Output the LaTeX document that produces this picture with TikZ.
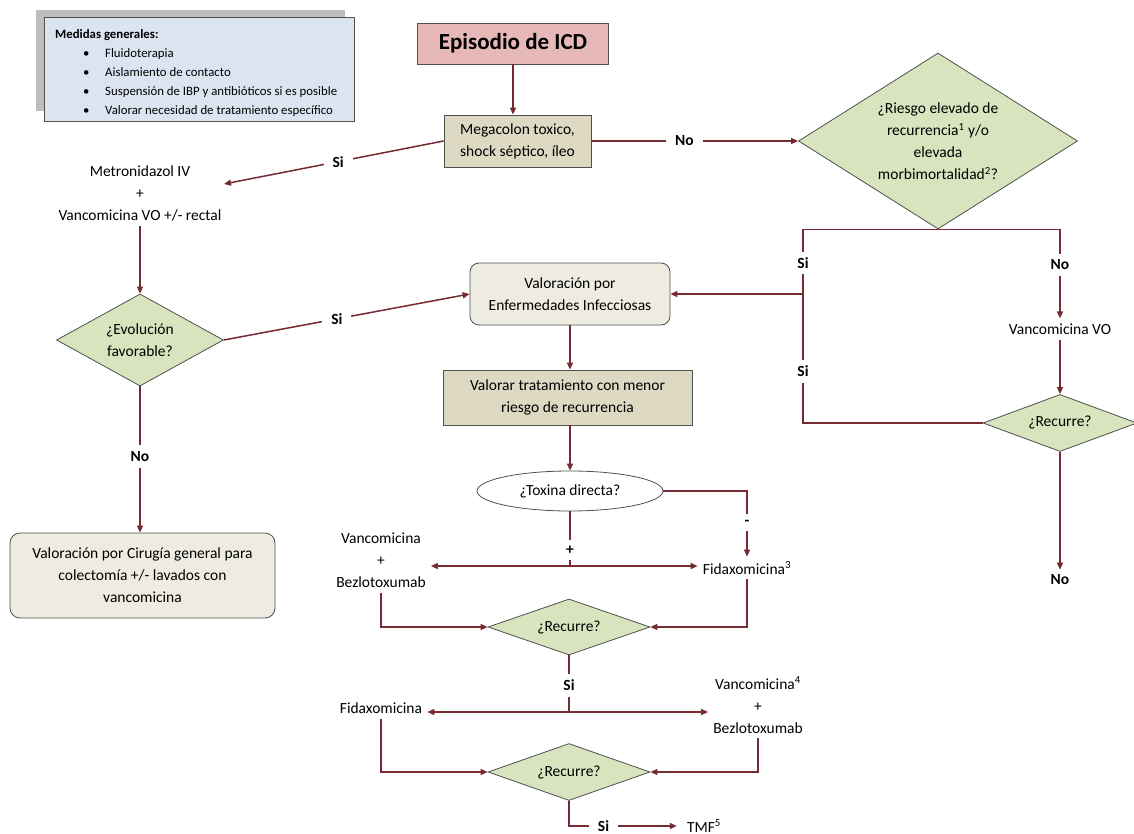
\documentclass[tikz,border=0pt]{standalone}
\usepackage{fontspec}
\setmainfont{Carlito}
\usetikzlibrary{shapes.geometric,arrows.meta}
\definecolor{lnc}{RGB}{118,42,50}
\definecolor{pinkf}{RGB}{230,185,184}
\definecolor{tanf}{RGB}{221,217,195}
\definecolor{greenf}{RGB}{215,228,189}
\definecolor{grayf}{RGB}{238,236,225}
\definecolor{bluef}{RGB}{219,229,241}
\definecolor{shadf}{RGB}{190,190,190}
\definecolor{bord}{RGB}{80,80,80}
\tikzset{
 ln/.style={draw=lnc, line width=1.5pt},
 arr/.style={ln, -{Triangle[length=7pt,width=6pt]}},
 lbl/.style={fill=white, font=\fontsize{15.5}{22}\selectfont\bfseries, inner xsep=9pt, inner ysep=6pt},
 box/.style={draw=bord, line width=0.8pt, align=center, inner sep=2pt},
 dia/.style={diamond, draw=bord, line width=0.8pt, fill=greenf, inner sep=0pt},
 txt/.style={align=center, inner sep=5pt},
}
\begin{document}
\begin{tikzpicture}[x=1pt, y=-1pt, font=\fontsize{15.5}{22}\selectfont]
\useasboundingbox (0,0) rectangle (1134,834);
\fill[white] (0,0) rectangle (1134,834);

% Medidas generales
\node[fill=shadf, minimum width=309pt, minimum height=101pt, anchor=north west, inner sep=0pt] (medsh) at (36,10) {};
\node[draw=bord, line width=0.8pt, fill=bluef, minimum width=310pt, minimum height=104pt, anchor=north west, inner sep=0pt] (med) at (44,17) {};
\node[anchor=north west, align=left, inner sep=0pt, font=\fontsize{12.8}{19}\selectfont] (medt) at (55,29)
 {\textbf{Medidas generales:}\\
  \hspace*{28pt}\makebox[22pt][l]{\textbullet}Fluidoterapia\\
  \hspace*{28pt}\makebox[22pt][l]{\textbullet}Aislamiento de contacto\\
  \hspace*{28pt}\makebox[22pt][l]{\textbullet}Suspensión de IBP y antibióticos si es posible\\
  \hspace*{28pt}\makebox[22pt][l]{\textbullet}Valorar necesidad de tratamiento específico};

% Boxes
\node[box, fill=pinkf, minimum width=191pt, minimum height=41pt, font=\fontsize{23}{26}\selectfont\bfseries] (epi) at (513,43.5) {Episodio de ICD};
\node[box, fill=tanf, minimum width=147pt, minimum height=52pt] (mega) at (517.5,141) {Megacolon toxico,\\shock séptico, íleo};
\node[box, fill=grayf, rounded corners=9pt, minimum width=200pt, minimum height=62pt] (idb) at (570,294) {Valoración por\\Enfermedades Infecciosas};
\node[box, fill=tanf, minimum width=249pt, minimum height=55pt] (val) at (567.5,397.5) {Valorar tratamiento con menor\\riesgo de recurrencia};
\node[box, fill=grayf, rounded corners=10pt, minimum width=265pt, minimum height=85pt] (cir) at (142.5,575.5) {Valoración por Cirugía general para\\colectomía +/- lavados con\\vancomicina};
\node[ellipse, draw=bord, line width=0.8pt, fill=white, minimum width=186pt, minimum height=40pt, inner sep=0pt] (tox) at (570,491) {¿Toxina directa?};

% Diamonds
\node[dia, minimum width=279pt, minimum height=176pt] (d1) at (938,141) {};
\node[txt] (d1t) at (d1) {¿Riesgo elevado de\\recurrencia\textsuperscript{1} y/o\\elevada\\morbimortalidad\textsuperscript{2}?};
\node[dia, minimum width=167pt, minimum height=92pt] (d2) at (140,340) {};
\node[txt] (d2t) at (d2) {¿Evolución\\favorable?};
\node[dia, minimum width=154pt, minimum height=57pt] (d3) at (1060,423) {};
\node[txt] (d3t) at (d3) {¿Recurre?};
\node[dia, minimum width=162pt, minimum height=56pt] (d4) at (569,627) {};
\node[txt] (d4t) at (d4) {¿Recurre?};
\node[dia, minimum width=162pt, minimum height=57pt] (d5) at (569,772) {};
\node[txt] (d5t) at (d5) {¿Recurre?};

% Plain texts
\node[txt] (metro) at (140,193) {Metronidazol IV\\+\\Vancomicina VO +/- rectal};
\coordinate (metroin) at (224,184);
\node[txt] (vvo) at (1060,329) {Vancomicina VO};
\node[txt] (vb) at (381,560) {Vancomicina\\+\\Bezlotoxumab};
\node[txt] (fid) at (747,568) {Fidaxomicina\textsuperscript{3}};
\node[txt] (fid2) at (381,708) {Fidaxomicina};
\node[txt] (vb2) at (758,705) {Vancomicina\textsuperscript{4}\\+\\Bezlotoxumab};
\node[txt, inner xsep=10pt] (tmf) at (704,826) {TMF\textsuperscript{5}};
\node[txt, font=\fontsize{15.5}{22}\selectfont\bfseries] (nofin) at (1060,580) {No};

% Junctions
\coordinate (jA) at (803,294);
\coordinate (j1) at (570,566);
\coordinate (j2) at (569,712);

% Connectors
\draw[arr] (epi.south) -- (epi.south |- mega.north);
\draw[arr] (mega.east) -- node[lbl, pos=0.45] {No} (d1.west);
\draw[arr] (mega.west) -- node[lbl, pos=0.48] {Si} (metroin);
\draw[arr] (metro.south) -- (d2.north);
\draw[arr] (d2.east) -- node[lbl, pos=0.46] {Si} (idb.west);
\draw[arr] (d2.south) -- node[lbl, pos=0.48] {No} (d2.south |- cir.north);
\draw[arr] (idb.south) -- (idb.south |- val.north);
\draw[arr] (val.south) -- (val.south -| tox.north) -- (tox.north);

\draw[ln] (d1.south) -| node[lbl, pos=0.76] {Si} (jA);
\draw[arr] (jA) -- (idb.east);
\draw[arr] (d1.south) -| node[lbl, pos=0.7] {No} (vvo.north);
\draw[arr] (vvo.south) -- (d3.north);
\draw[ln] (d3.west) -| node[lbl, pos=0.7] {Si} (jA);
\draw[arr] (d3.south) -- (nofin.north);

\draw[arr] (tox.east) -| node[lbl, pos=0.74] {-} (fid.north);
\draw[ln] (tox.south) -- node[lbl, pos=0.71] {+} (j1);
\draw[arr] (j1) -- (vb.east |- j1);
\draw[arr] (j1) -- (fid.west |- j1);
\draw[arr] (vb.south) |- (d4.west);
\draw[arr] (fid.south) |- (d4.east);

\draw[ln] (d4.south) -- node[lbl, pos=0.53] {Si} (j2);
\draw[arr] (j2) -- (fid2.east |- j2);
\draw[arr] (j2) -- (vb2.west |- j2);
\draw[arr] (fid2.south) |- (d5.west);
\draw[arr] (vb2.south) |- (d5.east);
\draw[arr] (d5.south) |- node[lbl, pos=0.66] {Si} (tmf.west);
\end{tikzpicture}
\end{document}
